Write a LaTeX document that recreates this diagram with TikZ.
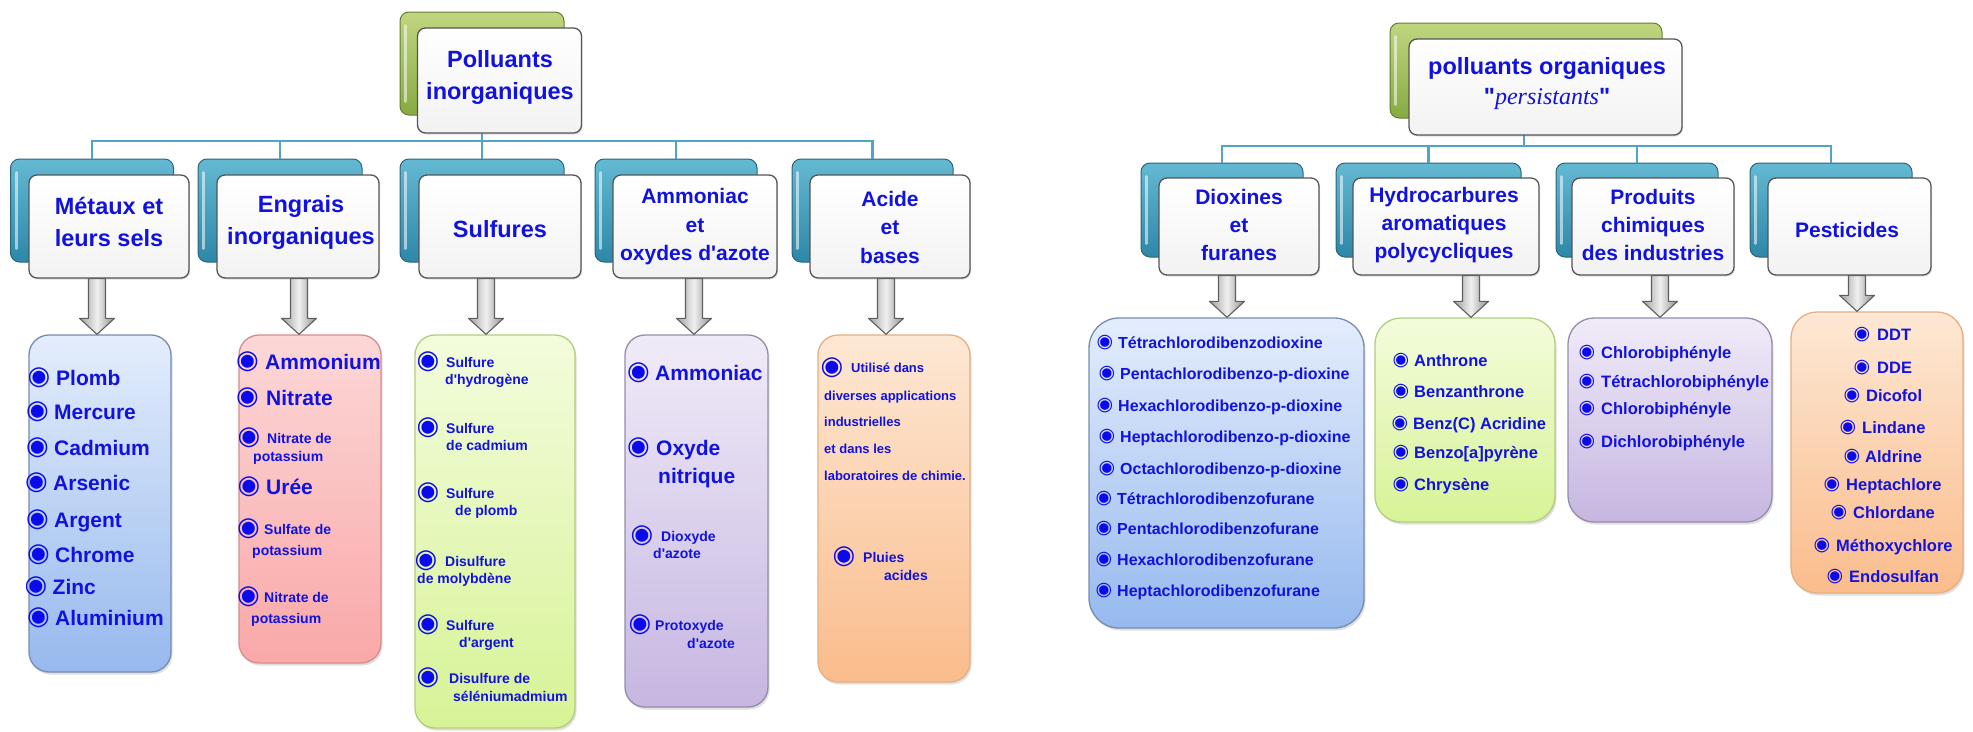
\documentclass[tikz,border=0pt]{standalone}
\usepackage{fontspec}
\setmainfont{Liberation Sans}[Ligatures=TeXOff,BoldFont={* Bold}]
\newfontfamily\tnr{Liberation Serif}[Ligatures=TeXOff]
\newfontfamily\dvsans{DejaVu Sans}
\usetikzlibrary{shadows,calc}
\definecolor{txt}{RGB}{18,18,222}
\definecolor{bulc}{RGB}{10,10,235}
\definecolor{connc}{RGB}{80,165,195}
\definecolor{gtop}{RGB}{192,214,128}
\definecolor{gbot}{RGB}{135,170,65}
\definecolor{gdraw}{RGB}{100,125,50}
\definecolor{btop}{RGB}{100,185,210}
\definecolor{bbot}{RGB}{45,135,168}
\definecolor{bdraw}{RGB}{45,100,125}
\definecolor{fdraw}{RGB}{85,85,85}
\definecolor{lbt}{RGB}{228,237,252}\definecolor{lbb}{RGB}{150,185,238}\definecolor{lbd}{RGB}{120,140,175}
\definecolor{lpt}{RGB}{252,215,215}\definecolor{lpb}{RGB}{250,168,168}\definecolor{lpd}{RGB}{215,140,140}
\definecolor{lgt}{RGB}{243,252,220}\definecolor{lgb}{RGB}{215,243,150}\definecolor{lgd}{RGB}{180,205,125}
\definecolor{lut}{RGB}{240,235,248}\definecolor{lub}{RGB}{198,182,225}\definecolor{lud}{RGB}{150,140,170}
\definecolor{lot}{RGB}{253,232,212}\definecolor{lob}{RGB}{250,188,140}\definecolor{lod}{RGB}{230,175,130}
\definecolor{arrd}{RGB}{95,95,95}
\tikzset{
  greenb/.style={draw=gdraw, line width=1pt, rounded corners=9pt, top color=gtop, bottom color=gbot, inner sep=0},
  blueb/.style={draw=bdraw, line width=1pt, rounded corners=9pt, top color=btop, bottom color=bbot, inner sep=0},
  frontb/.style={draw=fdraw, line width=1.3pt, rounded corners=8pt, top color=white, bottom color=black!5, inner sep=0,
     drop shadow={shadow xshift=1pt, shadow yshift=-1.5pt, opacity=.25}},
  ttl/.style={align=center, text=txt, inner sep=0, font=\bfseries},
  conn/.style={draw=connc, line width=2.5pt},
  lbox/.style={line width=1.3pt, inner sep=0, drop shadow={shadow xshift=1.5pt, shadow yshift=-2.5pt, opacity=.25}},
  lblue/.style={lbox, rounded corners=20pt, draw=lbd, top color=lbt, bottom color=lbb},
  lpink/.style={lbox, rounded corners=20pt, draw=lpd, top color=lpt, bottom color=lpb},
  lgreen/.style={lbox, rounded corners=20pt, draw=lgd, top color=lgt, bottom color=lgb},
  lpurple/.style={lbox, rounded corners=20pt, draw=lud, top color=lut, bottom color=lub},
  lorange/.style={lbox, rounded corners=20pt, draw=lod, top color=lot, bottom color=lob},
  blockarrow/.style={draw=arrd, line width=1.1pt, left color=black!38, right color=black!45, middle color=black!6, line join=round},
  itm/.style={anchor=base west, inner sep=0, text=txt},
  bul/.style={anchor=center, inner sep=0, text=bulc},
}
\newcommand{\itm}[7]{%
  \node[bul, font=\fontsize{#6}{#6}\dvsans] (#1b) at (#2,#4) {◉};
  \node[itm, font=\fontsize{#5}{#5}\selectfont\bfseries] (#1) at (#3,{#4+0.36*#5}) {#7};}
\newcommand{\cnt}[5]{%
  \node[itm, font=\fontsize{#4}{#4}\selectfont\bfseries] (#1) at (#2,{#3+0.36*#4}) {#5};}
\newcommand{\barrow}[3]{% #1 x-coordinate, #2 top node, #3 list node
  \draw[blockarrow] let \p1=(#1 |- #2.south), \p2=(#1 |- #3.north) in
    (\x1-8.5pt,\y1) -- (\x1+8.5pt,\y1) -- (\x1+8.5pt,\y2+16pt) -- (\x1+17.5pt,\y2+16pt) --
    (\x1,\y2) -- (\x1-17.5pt,\y2+16pt) -- (\x1-8.5pt,\y2+16pt) -- cycle;}
\newcommand{\hilite}[1]{%
  \draw[white, opacity=.55, line width=3pt, line cap=round]
    ([xshift=6pt,yshift=-14pt]#1.north west) -- ([xshift=6pt,yshift=14pt]#1.south west);}
\begin{document}
\begin{tikzpicture}[x=1pt,y=-1pt]
\useasboundingbox (0,0) rectangle (1973,731);
\fill[white] (0,0) rectangle (1973,731);

% ================= LEFT =================
\coordinate (busL) at (482,141);
\node[blueb, minimum width=163, minimum height=103] (c1b) at (92,210.5) {};
\node[blueb, minimum width=164, minimum height=103] (c2b) at (280,210.5) {};
\node[blueb, minimum width=164, minimum height=103] (c3b) at (482,210.5) {};
\node[blueb, minimum width=162, minimum height=103] (c4b) at (676,210.5) {};
\node[blueb, minimum width=161, minimum height=103] (c5b) at (872.5,210.5) {};
\foreach \n in {c1b,c2b,c3b,c4b,c5b} {\hilite{\n}}
\node[greenb, minimum width=164, minimum height=103] (rootLb) at (482,63.5) {};
\hilite{rootLb}
\draw[conn] (rootLb.center |- busL) -- (rootLb.center |- 0,132);
\foreach \n in {c1b,c2b,c3b,c4b,c5b} {\draw[conn] (\n.north) |- (busL);}
\node[frontb, minimum width=164, minimum height=105] (rootLf) at (499.5,80.5) {};
\node[ttl, font=\fontsize{23.5}{32}\selectfont\bfseries] (rootLt) at (500,77) {Polluants\\inorganiques};

\node[frontb, minimum width=160, minimum height=103] (c1f) at (109,226.5) {};
\node[frontb, minimum width=162, minimum height=103] (c2f) at (298,226.5) {};
\node[frontb, minimum width=162, minimum height=103] (c3f) at (500,226.5) {};
\node[frontb, minimum width=164, minimum height=103] (c4f) at (695,226.5) {};
\node[frontb, minimum width=160, minimum height=103] (c5f) at (890,226.5) {};
\node[ttl, font=\fontsize{23.5}{32}\selectfont\bfseries] (c1t) at (109,222) {Métaux et\\leurs sels};
\node[ttl, font=\fontsize{23.5}{32}\selectfont\bfseries] (c2t) at (301,222) {Engrais\\inorganiques};
\node[ttl, font=\fontsize{23.5}{32}\selectfont\bfseries] (c3t) at (500,229) {Sulfures};
\node[ttl, font=\fontsize{21}{28.5}\selectfont\bfseries] (c4t) at (695,227) {Ammoniac\\et\\oxydes d'azote};
\node[ttl, font=\fontsize{21}{28.5}\selectfont\bfseries] (c5t) at (890,227) {Acide\\et\\bases};

\node[lblue, minimum width=142, minimum height=337] (l1) at (100,503.5) {};
\node[lpink, minimum width=142, minimum height=328] (l2) at (310,499) {};
\node[lgreen, minimum width=160, minimum height=393] (l3) at (495,531.5) {};
\node[lpurple, minimum width=143, minimum height=372] (l4) at (696.5,521) {};
\node[lorange, minimum width=152, minimum height=347] (l5) at (894,508.5) {};

\coordinate (a1) at (97,0);
\coordinate (a2) at (299,0);
\coordinate (a3) at (486,0);
\coordinate (a4) at (694,0);
\coordinate (a5) at (886,0);
\barrow{a1}{c1f}{l1}
\barrow{a2}{c2f}{l2}
\barrow{a3}{c3f}{l3}
\barrow{a4}{c4f}{l4}
\barrow{a5}{c5f}{l5}

\itm{i11}{39}{56}{377.5}{21}{26}{Plomb}
\itm{i12}{37.5}{54}{412}{21}{26}{Mercure}
\itm{i13}{37.5}{54}{448}{21}{26}{Cadmium}
\itm{i14}{36.5}{53}{483}{21}{26}{Arsenic}
\itm{i15}{37.5}{54}{520}{21}{26}{Argent}
\itm{i16}{38.5}{55}{555}{21}{26}{Chrome}
\itm{i17}{36}{52.5}{587}{21}{26}{Zinc}
\itm{i18}{38.5}{55}{618}{21}{26}{Aluminium}

\itm{i21}{247.5}{265}{362}{21}{26}{Ammonium}
\itm{i22}{247.5}{266}{398}{21}{26}{Nitrate}
\itm{i23}{249}{267}{438}{14}{26}{Nitrate de}
\cnt{i23c}{253}{456}{14}{potassium}
\itm{i24}{249}{266}{487}{21}{26}{Urée}
\itm{i25}{248.5}{264}{529}{14}{26}{Sulfate de}
\cnt{i25c}{252}{550}{14}{potassium}
\itm{i26}{248.5}{264}{597}{14}{26}{Nitrate de}
\cnt{i26c}{251}{618}{14}{potassium}

\itm{i31}{428}{446}{362}{14}{26}{Sulfure}
\cnt{i31c}{445}{379}{14}{d'hydrogène}
\itm{i32}{428}{446}{428}{14}{26}{Sulfure}
\cnt{i32c}{446}{445}{14}{de cadmium}
\itm{i33}{428}{446}{493}{14}{26}{Sulfure}
\cnt{i33c}{455}{510}{14}{de plomb}
\itm{i34}{426}{445}{561}{14}{26}{Disulfure}
\cnt{i34c}{417}{578}{14}{de molybdène}
\itm{i35}{428}{446}{625}{14}{26}{Sulfure}
\cnt{i35c}{459}{642}{14}{d'argent}
\itm{i36}{428}{449}{678}{14}{26}{Disulfure de}
\cnt{i36c}{453}{696}{14}{séléniumadmium}

\itm{i41}{638.5}{655}{373}{21}{26}{Ammoniac}
\itm{i42}{638.5}{656}{448}{21}{26}{Oxyde}
\cnt{i42c}{658}{476}{21}{nitrique}
\itm{i43}{642}{661}{536}{14}{26}{Dioxyde}
\cnt{i43c}{653}{553}{14}{d'azote}
\itm{i44}{640}{655}{625}{14}{26}{Protoxyde}
\cnt{i44c}{687}{643}{14}{d'azote}

\itm{i51}{832}{851}{368}{13}{26}{Utilisé dans}
\cnt{i51c}{824}{396}{13}{diverses applications}
\cnt{i51d}{824}{422}{13}{industrielles}
\cnt{i51e}{824}{449}{13}{et dans les}
\cnt{i51f}{824}{476}{13}{laboratoires de chimie.}
\itm{i52}{844}{863}{557}{14}{26}{Pluies}
\cnt{i52c}{884}{575}{14}{acides}

% ================= RIGHT =================
\coordinate (busR) at (1524,146);
\node[blueb, minimum width=162, minimum height=94] (d1b) at (1222,210) {};
\node[blueb, minimum width=185, minimum height=94] (d2b) at (1428.5,210) {};
\node[blueb, minimum width=162, minimum height=94] (d3b) at (1637,210) {};
\node[blueb, minimum width=162, minimum height=94] (d4b) at (1831,210) {};
\foreach \n in {d1b,d2b,d3b,d4b} {\hilite{\n}}
\node[greenb, minimum width=272, minimum height=95] (rootRb) at (1526,70.5) {};
\hilite{rootRb}
\draw[conn] (busR) -- (busR |- 0,135);
\foreach \n in {d1b,d2b,d3b,d4b} {\draw[conn] (\n.north) |- (busR);}
\node[frontb, minimum width=273, minimum height=96] (rootRf) at (1545.5,87) {};
\node[ttl, font=\fontsize{23.5}{30}\selectfont\bfseries] (rootRt) at (1547,84)
  {polluants organiques\\"{\tnr\mdseries\itshape\fontsize{24}{30}\selectfont persistants}"};

\node[frontb, minimum width=160, minimum height=97] (d1f) at (1239,226.5) {};
\node[frontb, minimum width=186, minimum height=97] (d2f) at (1446,226.5) {};
\node[frontb, minimum width=162, minimum height=97] (d3f) at (1653,226.5) {};
\node[frontb, minimum width=163, minimum height=97] (d4f) at (1849.5,226.5) {};
\node[ttl, font=\fontsize{21}{28}\selectfont\bfseries] (d1t) at (1239,225) {Dioxines\\et\\furanes};
\node[ttl, font=\fontsize{21}{28}\selectfont\bfseries] (d2t) at (1444,225) {Hydrocarbures\\aromatiques\\polycycliques};
\node[ttl, font=\fontsize{21}{28}\selectfont\bfseries] (d3t) at (1653,225) {Produits\\chimiques\\des industries};
\node[ttl, font=\fontsize{21}{28}\selectfont\bfseries] (d4t) at (1847,230) {Pesticides};

\node[lblue, rounded corners=30pt, minimum width=275, minimum height=310] (r1) at (1226.5,473) {};
\node[lgreen, rounded corners=26pt, minimum width=180, minimum height=204] (r2) at (1465,420) {};
\node[lpurple, rounded corners=26pt, minimum width=204, minimum height=204] (r3) at (1670,420) {};
\node[lorange, rounded corners=26pt, minimum width=172, minimum height=281] (r4) at (1877,452.5) {};

\coordinate (a6) at (1227,0);
\coordinate (a7) at (1471,0);
\coordinate (a8) at (1660,0);
\coordinate (a9) at (1857,0);
\barrow{a6}{d1f}{r1}
\barrow{a7}{d2f}{r2}
\barrow{a8}{d3f}{r3}
\barrow{a9}{d4f}{r4}

\itm{j11}{1105}{1118}{343}{16}{19}{Tétrachlorodibenzodioxine}
\itm{j12}{1107}{1120}{374}{16}{19}{Pentachlorodibenzo-p-dioxine}
\itm{j13}{1105}{1118}{406}{16}{19}{Hexachlorodibenzo-p-dioxine}
\itm{j14}{1107}{1120}{437}{16}{19}{Heptachlorodibenzo-p-dioxine}
\itm{j15}{1107}{1120}{469}{16}{19}{Octachlorodibenzo-p-dioxine}
\itm{j16}{1104}{1117}{499}{16}{19}{Tétrachlorodibenzofurane}
\itm{j17}{1104}{1117}{529}{16}{19}{Pentachlorodibenzofurane}
\itm{j18}{1104}{1117}{560}{16}{19}{Hexachlorodibenzofurane}
\itm{j19}{1104}{1117}{591}{16}{19}{Heptachlorodibenzofurane}

\itm{j21}{1401}{1414}{361}{16.5}{19}{Anthrone}
\itm{j22}{1401}{1414}{392}{16.5}{19}{Benzanthrone}
\itm{j23}{1400}{1413}{424}{16.5}{19}{Benz(C) Acridine}
\itm{j24}{1401}{1414}{453}{16.5}{19}{Benzo[a]pyrène}
\itm{j25}{1401}{1414}{485}{16.5}{19}{Chrysène}

\itm{j31}{1587}{1601}{353}{16.5}{19}{Chlorobiphényle}
\itm{j32}{1587}{1601}{382}{16.5}{19}{Tétrachlorobiphényle}
\itm{j33}{1587}{1601}{409}{16.5}{19}{Chlorobiphényle}
\itm{j34}{1587}{1601}{442}{16.5}{19}{Dichlorobiphényle}

\itm{j41}{1862}{1877}{335}{16.5}{19}{DDT}
\itm{j42}{1862}{1877}{368}{16.5}{19}{DDE}
\itm{j43}{1852}{1866}{396}{16.5}{19}{Dicofol}
\itm{j44}{1848}{1862}{428}{16.5}{19}{Lindane}
\itm{j45}{1852}{1865}{457}{16.5}{19}{Aldrine}
\itm{j46}{1832}{1846}{485}{16.5}{19}{Heptachlore}
\itm{j47}{1839}{1853}{513}{16.5}{19}{Chlordane}
\itm{j48}{1822}{1836}{546}{16.5}{19}{Méthoxychlore}
\itm{j49}{1835}{1849}{577}{16.5}{19}{Endosulfan}
\end{tikzpicture}
\end{document}
